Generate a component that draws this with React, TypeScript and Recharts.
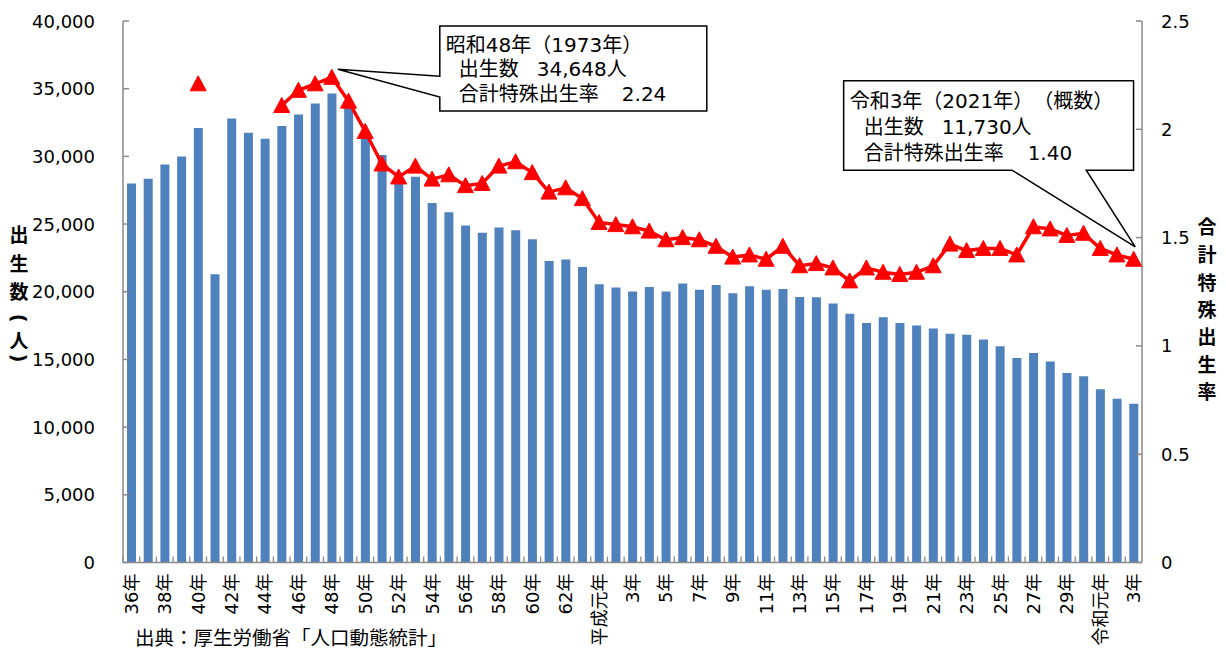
import React from 'react';
import { ComposedChart, Bar, Line, XAxis, YAxis, ReferenceDot } from 'recharts';

// ---- data ----
const yearLabels: string[] = [
  '36年', '37年', '38年', '39年', '40年', '41年', '42年', '43年', '44年', '45年',
  '46年', '47年', '48年', '49年', '50年', '51年', '52年', '53年', '54年', '55年',
  '56年', '57年', '58年', '59年', '60年', '61年', '62年', '63年',
  '平成元年', '2年', '3年', '4年', '5年', '6年', '7年', '8年', '9年', '10年',
  '11年', '12年', '13年', '14年', '15年', '16年', '17年', '18年', '19年', '20年',
  '21年', '22年', '23年', '24年', '25年', '26年', '27年', '28年', '29年', '30年',
  '令和元年', '2年', '3年',
];

const births: number[] = [
  28000, 28350, 29400, 30000, 32100, 21300, 32800, 31750, 31300, 32250,
  33100, 33900, 34648, 33600, 31500, 30100, 28400, 28500, 26560, 25880,
  24900, 24350, 24750, 24550, 23880, 22280, 22390, 21820,
  20560, 20320, 20020, 20360, 20020, 20610, 20140, 20490, 19880, 20410,
  20140, 20210, 19620, 19600, 19140, 18380, 17700, 18110, 17700, 17510,
  17290, 16890, 16820, 16480, 15980, 15100, 15470, 14850, 13990, 13750,
  12790, 12090, 11730,
];

const tfr: (number | null)[] = [
  null, null, null, null, 2.21, null, null, null, null, 2.11,
  2.18, 2.21, 2.24, 2.13, 1.99, 1.84, 1.78, 1.83, 1.77, 1.79,
  1.74, 1.75, 1.83, 1.85, 1.80, 1.71, 1.73, 1.68,
  1.57, 1.56, 1.55, 1.53, 1.49, 1.50, 1.49, 1.46, 1.41, 1.42,
  1.40, 1.46, 1.37, 1.38, 1.36, 1.30, 1.36, 1.34, 1.33, 1.34,
  1.37, 1.47, 1.44, 1.45, 1.45, 1.42, 1.55, 1.54, 1.51, 1.52,
  1.45, 1.42, 1.40,
];

const leftTicks: number[] = [0, 5000, 10000, 15000, 20000, 25000, 30000, 35000, 40000];
const rightTicks: number[] = [0, 0.5, 1, 1.5, 2, 2.5];

// left title: characters stacked vertically; parentheses are drawn rotated
const leftTitle: string[] = ['出', '生', '数', '(', '人', ')'];
const rightTitle: string[] = ['合', '計', '特', '殊', '出', '生', '率'];
const sourceText = '出典：厚生労働省「人口動態統計」';

const peakNote = { title: '昭和48年（1973年）', births: '34,648人', rate: '2.24' };
const latestNote = { title: '令和3年（2021年）（概数）', births: '11,730人', rate: '1.40' };

const data = yearLabels.map((label, i) => ({ key: i, label, births: births[i], tfr: tfr[i] }));

// ---- style ----
const W = 1226;
const H = 649;
const LEFT_W = 123;
const RIGHT_W = 84;
const TOP = 21;
const XAXIS_H = 86.5;
const BAND = (W - LEFT_W - RIGHT_W) / yearLabels.length;
const AXIS = '#8a8a8a';
const NUM_FONT = '"DejaVu Sans", "Noto Sans CJK JP", sans-serif';
const JP_FONT = '"Noto Sans CJK JP", sans-serif';
const NO_TRIM: any = { textSpacingTrim: 'space-all' };

const LeftTick = (props: any) => {
  const { x, y, payload } = props;
  return (
    <g>
      <line x1={x} x2={x + 6} y1={y} y2={y} stroke={AXIS} strokeWidth={1.5} />
      <text x={x - 28} y={y} textAnchor="end" dominantBaseline="central" fontSize={18} fill="#000" fontFamily={NUM_FONT}>
        {Number(payload.value).toLocaleString('en-US')}
      </text>
    </g>
  );
};

const RightTick = (props: any) => {
  const { x, y, payload } = props;
  return (
    <g>
      <line x1={x} x2={x - 6} y1={y} y2={y} stroke={AXIS} strokeWidth={1.5} />
      <text x={x + 19} y={y} textAnchor="start" dominantBaseline="central" fontSize={18} fill="#000" fontFamily={NUM_FONT}>
        {String(payload.value)}
      </text>
    </g>
  );
};

const XTick = (props: any) => {
  const { x, y, payload } = props;
  const idx = Number(payload.value);
  const bx = x - BAND / 2;
  const ty = y + 11;
  return (
    <g>
      <line x1={bx} x2={bx} y1={y} y2={y - 6} stroke={AXIS} strokeWidth={1.3} />
      {idx % 2 === 0 ? (
        <text
          x={x}
          y={ty}
          transform={`rotate(-90 ${x} ${ty})`}
          textAnchor="end"
          dominantBaseline="central"
          fontSize={18}
          fill="#000"
          fontFamily={NUM_FONT}
        >
          {yearLabels[idx]}
        </text>
      ) : null}
    </g>
  );
};

const TriangleDot = (props: any) => {
  const { cx, cy, index } = props;
  if (cx == null || cy == null || props.value == null) return <g key={`t-${index}`} />;
  return (
    <polygon
      key={`t-${index}`}
      points={`${cx},${cy - 8} ${cx - 8},${cy + 7} ${cx + 8},${cy + 7}`}
      fill="#FF0000"
      stroke="#FF0000"
      strokeWidth={1}
    />
  );
};

const noteText = { fontSize: 20, fill: '#000', fontFamily: NUM_FONT } as const;

const PeakCallout = (props: any) => {
  const { cx, cy } = props;
  if (cx == null || cy == null) return <g />;
  const L = cx + 108;
  const T = cy - 51.3;
  const R = cx + 375;
  const B = cy + 33.7;
  const tipX = cx + 6;
  const tipY = cy - 8;
  const d = `M${L},${T} H${R} V${B} H${L} V${cy + 19.7} L${tipX},${tipY} L${L},${cy - 1} Z`;
  return (
    <g style={NO_TRIM}>
      <path d={d} fill="#fff" stroke="#000" strokeWidth={1.5} />
      <text x={L + 6} y={cy - 32.5} dominantBaseline="central" {...noteText}>{peakNote.title}</text>
      <text x={L + 19} y={cy - 8} dominantBaseline="central" {...noteText}>
        <tspan>出生数</tspan>
        <tspan x={L + 97}>{peakNote.births}</tspan>
      </text>
      <text x={L + 19} y={cy + 16.5} dominantBaseline="central" {...noteText}>
        <tspan>合計特殊出生率</tspan>
        <tspan x={L + 182}>{peakNote.rate}</tspan>
      </text>
    </g>
  );
};

const LatestCallout = (props: any) => {
  const { cx, cy } = props;
  if (cx == null || cy == null) return <g />;
  const L = cx - 290;
  const T = cy - 178.4;
  const R = cx - 0.1;
  const B = cy - 89.1;
  const tipX = cx + 1.6;
  const tipY = cy - 12.4;
  const d = `M${L},${T} H${R} V${B} H${cx - 47.4} L${tipX},${tipY} L${cx - 121.7},${B} H${L} Z`;
  return (
    <g style={NO_TRIM}>
      <path d={d} fill="#fff" stroke="#000" strokeWidth={1.5} />
      <text x={L + 6} y={cy - 158.6} dominantBaseline="central" {...noteText}>{latestNote.title}</text>
      <text x={L + 20} y={cy - 132} dominantBaseline="central" {...noteText}>
        <tspan>出生数</tspan>
        <tspan x={L + 98}>{latestNote.births}</tspan>
      </text>
      <text x={L + 20} y={cy - 106} dominantBaseline="central" {...noteText}>
        <tspan>合計特殊出生率</tspan>
        <tspan x={L + 184}>{latestNote.rate}</tspan>
      </text>
    </g>
  );
};

const leftTitleY = [233, 262, 290, 318, 339, 358];
const rightTitleY = [225, 253, 281, 308, 335, 363, 390];

export default function App() {
  return (
    <div style={{ position: 'absolute', left: 0, top: 0, width: W, height: H, background: '#fff', ...NO_TRIM }}>
      <ComposedChart
        width={W}
        height={H}
        data={data}
        margin={{ top: TOP, right: 0, bottom: 0, left: 0 }}
        barCategoryGap={0}
      >
        <XAxis
          dataKey="key"
          type="category"
          interval={0}
          height={XAXIS_H}
          tickSize={0}
          tickMargin={0}
          tickLine={false}
          axisLine={{ stroke: AXIS, strokeWidth: 1.5 }}
          tick={(p: any) => <XTick {...p} />}
        />
        <YAxis
          yAxisId="left"
          orientation="left"
          width={LEFT_W}
          domain={[0, 40000]}
          ticks={leftTicks}
          interval={0}
          tickSize={0}
          tickMargin={0}
          tickLine={false}
          axisLine={{ stroke: AXIS, strokeWidth: 1.5 }}
          tick={(p: any) => <LeftTick {...p} />}
        />
        <YAxis
          yAxisId="right"
          orientation="right"
          width={RIGHT_W}
          domain={[0, 2.5]}
          ticks={rightTicks}
          interval={0}
          tickSize={0}
          tickMargin={0}
          tickLine={false}
          axisLine={{ stroke: AXIS, strokeWidth: 1.5 }}
          tick={(p: any) => <RightTick {...p} />}
        />
        <Bar yAxisId="left" dataKey="births" fill="#4F81BD" barSize={9} isAnimationActive={false} />
        <Line
          yAxisId="right"
          dataKey="tfr"
          type="linear"
          stroke="#FF0000"
          strokeWidth={3.5}
          connectNulls={false}
          dot={(p: any) => <TriangleDot {...p} />}
          activeDot={false}
          isAnimationActive={false}
        />
        <ReferenceDot
          yAxisId="right"
          x={12}
          y={tfr[12] as number}
          r={0}
          ifOverflow="visible"
          shape={(p: any) => <PeakCallout {...p} />}
        />
        <ReferenceDot
          yAxisId="right"
          x={60}
          y={tfr[60] as number}
          r={0}
          ifOverflow="visible"
          shape={(p: any) => <LatestCallout {...p} />}
        />
      </ComposedChart>
      <svg
        width={W}
        height={H}
        style={{ position: 'absolute', left: 0, top: 0, pointerEvents: 'none', ...NO_TRIM }}
      >
        {leftTitle.map((ch, i) => {
          const isParen = ch === '(' || ch === ')';
          const y = leftTitleY[i];
          return (
            <text
              key={`l${i}`}
              x={19}
              y={y}
              transform={isParen ? `rotate(90 19 ${y})` : undefined}
              textAnchor="middle"
              dominantBaseline="central"
              fontSize={19}
              fontWeight="bold"
              fontFamily={isParen ? NUM_FONT : JP_FONT}
              fill="#000"
            >
              {ch}
            </text>
          );
        })}
        {rightTitle.map((ch, i) => (
          <text key={`r${i}`} x={1207} y={rightTitleY[i]} textAnchor="middle" dominantBaseline="central" fontSize={19} fontWeight="bold" fontFamily={JP_FONT} fill="#000">
            {ch}
          </text>
        ))}
        <text x={135} y={636} dominantBaseline="central" fontSize={19.5} fontFamily={JP_FONT} fill="#000">
          {sourceText}
        </text>
      </svg>
    </div>
  );
}
